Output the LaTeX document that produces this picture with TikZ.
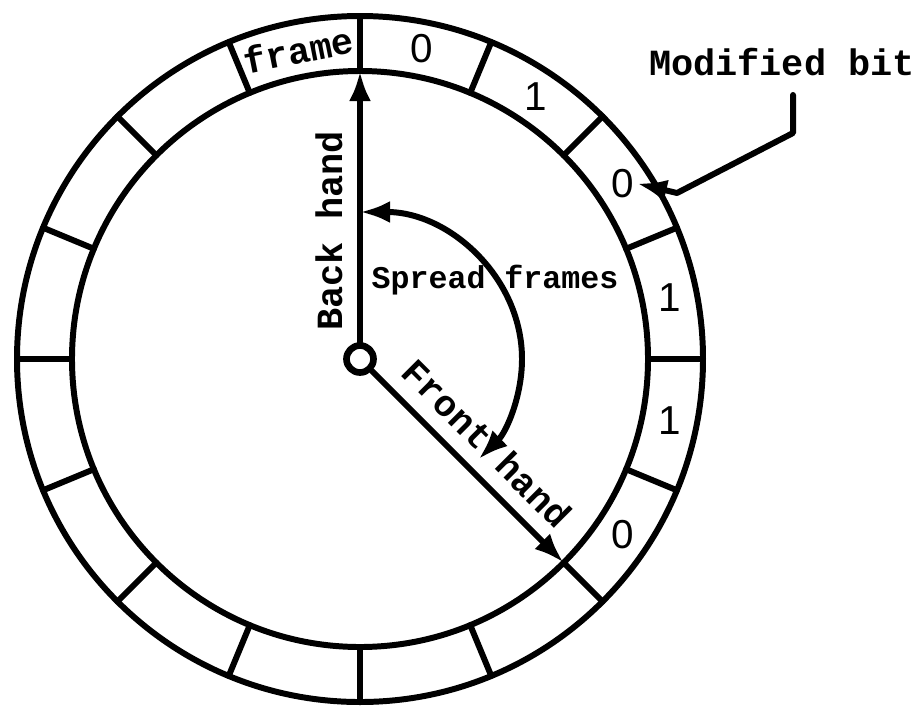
\documentclass[tikz,border=0pt]{standalone}
\usepackage{fontspec}
\setmonofont{Liberation Mono}
\setsansfont{Liberation Sans}
\usetikzlibrary{arrows.meta}

\tikzset{
  lbl/.style={font=\ttfamily\bfseries\fontsize{10.5}{12}\selectfont,inner sep=0pt},
  bit/.style={font=\sffamily\fontsize{11.5}{13}\selectfont,inner sep=0pt}
}

\begin{document}
\begin{tikzpicture}[line cap=round,line join=round,line width=1.7pt,
    >={Latex[length=0.3cm,width=0.22cm]}]
  \useasboundingbox (-3.60,-3.48) rectangle (5.59,3.59);
  % ring of frames
  \draw (0,0) circle (3.43);
  \draw (0,0) circle (2.88);
  \foreach \a in {0,22.5,...,337.5}
    \draw (\a:2.88) -- (\a:3.43);
  \foreach \a/\b [count=\i] in {78.75/0,56.25/1,33.75/0,11.25/1,-11.25/1,-33.75/0}
    \node[bit] (bit\i) at (\a:3.16) {\b};
  \node[lbl,rotate=11.25] (frm) at (101.25:3.15) {frame};
  % hands
  \node[draw,circle,fill=white,minimum size=0.27cm,inner sep=0pt,line width=1.9pt] (hub) at (0,0) {};
  \coordinate (backtip) at (90:2.88);
  \coordinate (fronttip) at (-45:2.88);
  \draw[->] (hub) -- (backtip);
  \draw[->] (hub) -- (fronttip);
  \node[lbl,rotate=90] (back) at (-0.31,1.28) {Back hand};
  \node[lbl,rotate=-45] (front) at (1.27,-0.84) {Front hand};
  % spread
  \coordinate (sprtop) at (0,1.47);
  \draw[<->] (sprtop) arc[start angle=90,end angle=-43,x radius=1.62,y radius=1.47];
  \node[lbl,font=\ttfamily\bfseries\fontsize{9}{11}\selectfont] (spread) at (1.35,0.79) {Spread frames};
  % modified bit
  \node[lbl] (mod) at (4.22,2.97) {Modified bit};
  \coordinate (modtail) at (4.33,2.64);
  \coordinate (modbend) at (4.33,2.26);
  \coordinate (modknee) at (3.17,1.66);
  \draw[->] (modtail) -- (modbend) -- (modknee) -- (bit3.east);
\end{tikzpicture}
\end{document}
